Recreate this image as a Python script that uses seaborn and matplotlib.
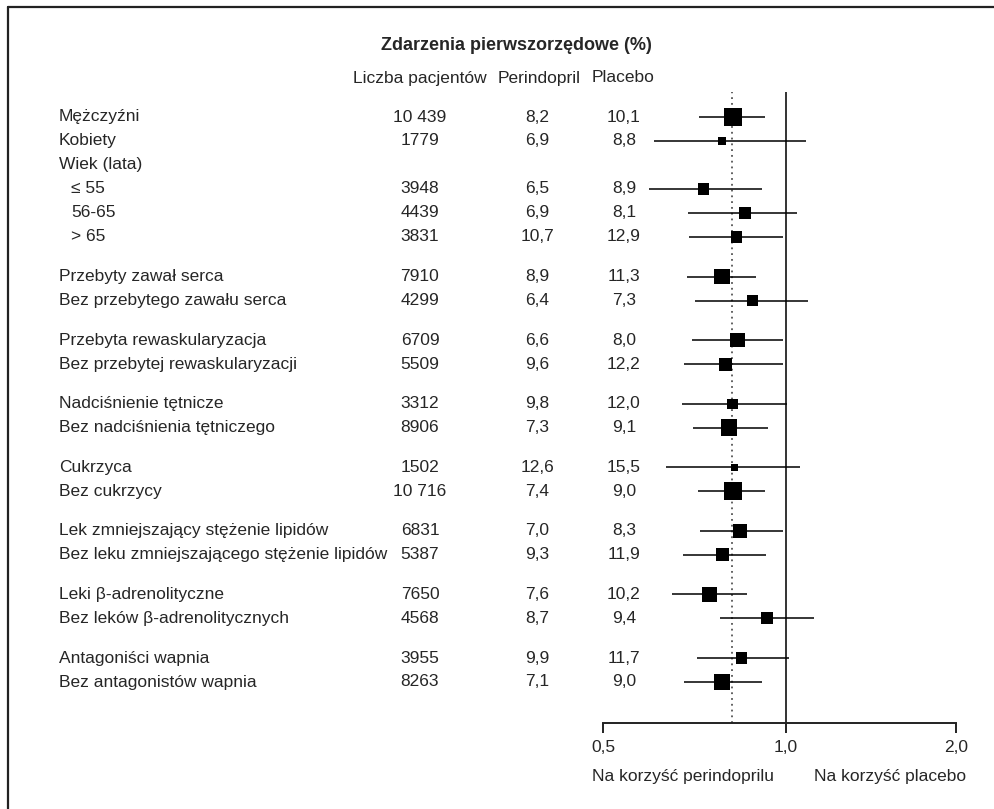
import matplotlib
matplotlib.use('Agg')
import matplotlib.pyplot as plt
import matplotlib.transforms as mtransforms
from matplotlib.lines import Line2D
import numpy as np
import pandas as pd
import seaborn as sns

sns.set_style('white')
plt.rcParams['font.family'] = ['Liberation Sans Narrow', 'Liberation Sans', 'DejaVu Sans']

# --- data ---
row_labels = ['Mężczyźni', 'Kobiety', 'Wiek (lata)', '≤ 55', '56-65', '> 65',
              'Przebyty zawał serca', 'Bez przebytego zawału serca',
              'Przebyta rewaskularyzacja', 'Bez przebytej rewaskularyzacji',
              'Nadciśnienie tętnicze', 'Bez nadciśnienia tętniczego',
              'Cukrzyca', 'Bez cukrzycy',
              'Lek zmniejszający stężenie lipidów', 'Bez leku zmniejszającego stężenie lipidów',
              'Leki β-adrenolityczne', 'Bez leków β-adrenolitycznych',
              'Antagoniści wapnia', 'Bez antagonistów wapnia']
row_group = [0, 0, 0, 0, 0, 0, 1, 1, 2, 2, 3, 3, 4, 4, 5, 5, 6, 6, 7, 7]
n_patients = [10439, 1779, None, 3948, 4439, 3831, 7910, 4299, 6709, 5509,
              3312, 8906, 1502, 10716, 6831, 5387, 7650, 4568, 3955, 8263]
perindopril = [8.2, 6.9, None, 6.5, 6.9, 10.7, 8.9, 6.4, 6.6, 9.6,
               9.8, 7.3, 12.6, 7.4, 7.0, 9.3, 7.6, 8.7, 9.9, 7.1]
placebo = [10.1, 8.8, None, 8.9, 8.1, 12.9, 11.3, 7.3, 8.0, 12.2,
           12.0, 9.1, 15.5, 9.0, 8.3, 11.9, 10.2, 9.4, 11.7, 9.0]
hr = [0.820, 0.786, None, 0.732, 0.856, 0.829, 0.786, 0.882, 0.833, 0.796,
      0.817, 0.807, 0.823, 0.819, 0.841, 0.788, 0.750, 0.931, 0.845, 0.786]
ci_low = [0.721, 0.607, None, 0.596, 0.691, 0.694, 0.688, 0.710, 0.701, 0.681,
          0.675, 0.704, 0.635, 0.717, 0.722, 0.677, 0.650, 0.780, 0.715, 0.680]
ci_high = [0.925, 1.086, None, 0.915, 1.047, 0.989, 0.894, 1.096, 0.989, 0.989,
           1.005, 0.935, 1.061, 0.926, 0.991, 0.927, 0.863, 1.123, 1.013, 0.915]
overall_hr = 0.816
indented = ['≤ 55', '56-65', '> 65']

x_ticks = [0.5, 1.0, 2.0]
x_ticklabels = ['0,5', '1,0', '2,0']

# row positions: one step per row, a wider gap between groups
GAP = 0.65
df = pd.DataFrame({'label': row_labels, 'group': row_group, 'n': n_patients,
                   'per': perindopril, 'pla': placebo,
                   'hr': hr, 'lo': ci_low, 'hi': ci_high})
df['y'] = np.arange(len(df)) + df['group'] * GAP
marks = df.dropna(subset=['hr'])

W, H = 995, 809
fig = plt.figure(figsize=(W / 100, H / 100), dpi=100)

def fx(px):
    return px / W

def fy(py):
    return 1 - py / H

ax = fig.add_axes([fx(603), fy(723), fx(956) - fx(603), fy(92) - fy(723)])

# axis as drawn in the reference: log steps, slightly shorter above 1.0
K_HI = 170.3 / 182.4

def fwd(x):
    l = np.log2(np.clip(np.asarray(x, dtype=float), 1e-6, None))
    return np.where(l < 0, l, l * K_HI)

def inv(v):
    v = np.asarray(v, dtype=float)
    return np.where(v < 0, 2.0 ** v, 2.0 ** (v / K_HI))

ax.set_xscale('function', functions=(fwd, inv))
ax.set_xlim(0.5, 2.0)
y_last = df['y'].max()
px_per_row = (682 - 117) / y_last
ax.set_ylim(y_last + (723 - 682) / px_per_row, -(117 - 92) / px_per_row)

ax.axvline(1.0, color='#333333', lw=1.4, zorder=1)
ax.axvline(overall_hr, color='#555555', lw=1.3, ls=(0, (1, 2.2)), zorder=1)
ax.hlines(marks['y'], marks['lo'], marks['hi'], color='black', lw=1.1, zorder=2)
sns.scatterplot(data=marks, x='hr', y='y', size='n', sizes=(20, 170),
                size_norm=(1000, marks['n'].max()), marker='s', color='black',
                linewidth=0, legend=False, ax=ax, zorder=3)

for s in ['top', 'right', 'left']:
    ax.spines[s].set_visible(False)
ax.spines['bottom'].set_linewidth(1.4)
ax.spines['bottom'].set_color('#222222')
ax.set_xticks(x_ticks)
ax.set_xticklabels(x_ticklabels)
ax.xaxis.set_minor_locator(matplotlib.ticker.NullLocator())
ax.tick_params(axis='x', direction='out', length=7, width=1.4, color='#222222',
               labelsize=12.5, pad=5, bottom=True)
ax.set_yticks([])
ax.set_xlabel('')
ax.set_ylabel('')

# table columns
trans = mtransforms.blended_transform_factory(fig.transFigure, ax.transData)
fs = 12.5
for _, r in df.iterrows():
    x0 = 71 if r['label'] in indented else 59
    fig.text(fx(x0), r['y'], r['label'], transform=trans, ha='left', va='center', fontsize=fs)
    if pd.notna(r['n']):
        n = int(r['n'])
        ntxt = f'{n:,}'.replace(',', ' ') if n >= 10000 else str(n)
        fig.text(fx(420), r['y'], ntxt, transform=trans, ha='center', va='center', fontsize=fs)
        fig.text(fx(537), r['y'], f"{r['per']:.1f}".replace('.', ','), transform=trans,
                 ha='center', va='center', fontsize=fs)
        fig.text(fx(624), r['y'], f"{r['pla']:.1f}".replace('.', ','), transform=trans,
                 ha='center', va='center', fontsize=fs)

fig.text(fx(516), fy(46), 'Zdarzenia pierwszorzędowe (%)', ha='center', va='center',
         fontsize=13, fontweight='bold')
fig.text(fx(420), fy(78), 'Liczba pacjentów', ha='center', va='center', fontsize=fs)
fig.text(fx(539), fy(78), 'Perindopril', ha='center', va='center', fontsize=fs)
fig.text(fx(623), fy(78), 'Placebo', ha='center', va='center', fontsize=fs)
fig.text(fx(592), fy(777), 'Na korzyść perindoprilu', ha='left', va='center', fontsize=fs)
fig.text(fx(966), fy(777), 'Na korzyść placebo', ha='right', va='center', fontsize=fs)

# frame (top and left edges visible in the reference)
fig.add_artist(Line2D([fx(8), 1.0], [fy(7), fy(7)], color='#222222', lw=1.6))
fig.add_artist(Line2D([fx(8), fx(8)], [fy(7), 0.0], color='#222222', lw=1.6))

fig.savefig('out.png', dpi=100)
